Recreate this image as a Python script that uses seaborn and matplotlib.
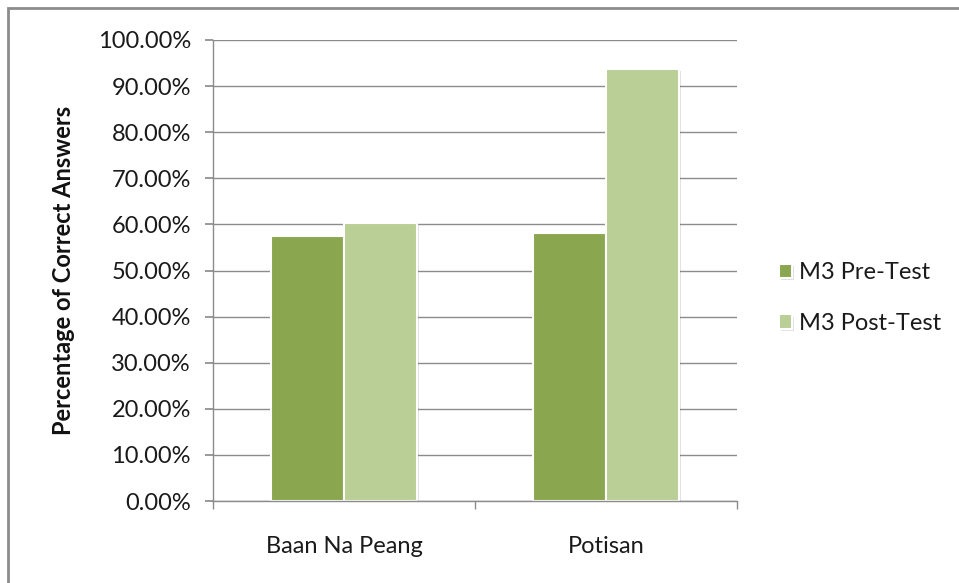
import matplotlib
matplotlib.use("Agg")
import matplotlib.pyplot as plt
import matplotlib.patheffects as pe
from matplotlib.ticker import FuncFormatter, FixedLocator
import seaborn as sns
import pandas as pd

schools = ["Baan Na Peang", "Potisan"]
pre_test = [0.575, 0.581]
post_test = [0.602, 0.938]
series = ["M3 Pre-Test", "M3 Post-Test"]
colors = ["#8AA74F", "#B9CF96"]

df = pd.DataFrame({
    "School": schools * 2,
    "Value": pre_test + post_test,
    "Series": [series[0]] * 2 + [series[1]] * 2,
})

sns.set_theme(style="white")
plt.rcParams["font.family"] = ["Lato", "DejaVu Sans"]

FS = 17
fig = plt.figure(figsize=(9.59, 5.83), dpi=100)
ax = fig.add_axes([213/959, 1-501/583, (737-213)/959, (501-40)/583])

sns.barplot(data=df, x="School", y="Value", hue="Series", order=schools,
            hue_order=series, palette=colors, width=0.56, ax=ax,
            edgecolor="white", linewidth=1.5, saturation=1)

for p in ax.patches:
    p.set_path_effects([pe.SimplePatchShadow(offset=(1.5, -1.5), alpha=0.15), pe.Normal()])

ax.set_ylim(0, 1.0)
ax.set_xlim(-0.5, 1.5)
ax.set_yticks([i/10 for i in range(11)])
ax.yaxis.set_major_formatter(FuncFormatter(lambda v, _: f"{v*100:.2f}%"))
ax.yaxis.grid(True, color="#8C8C8C", linewidth=1)
ax.set_axisbelow(True)
for s in ["top", "right"]:
    ax.spines[s].set_visible(False)
for s in ["left", "bottom"]:
    ax.spines[s].set_color("#8C8C8C")
    ax.spines[s].set_linewidth(1)

ax.tick_params(axis="y", which="major", left=True, length=6, color="#8C8C8C",
               labelsize=FS, labelcolor="#1a1a1a", pad=10)
ax.tick_params(axis="x", which="major", bottom=False, labelsize=FS,
               labelcolor="#1a1a1a", pad=19)
ax.xaxis.set_minor_locator(FixedLocator([-0.5, 0.5, 1.5]))
ax.tick_params(axis="x", which="minor", bottom=True, length=6, color="#8C8C8C")

ax.set_xlabel("")
ax.set_ylabel("Percentage of Correct Answers", fontsize=FS, fontweight="bold",
              color="#111111", labelpad=16)

leg = ax.legend(loc="center left", bbox_to_anchor=(1.08, 0.44), frameon=False,
                fontsize=FS, handlelength=0.55, handleheight=0.55,
                handletextpad=0.3, labelspacing=1.25, borderpad=0, borderaxespad=0)
for t in leg.get_texts():
    t.set_color("#1a1a1a")

fig.add_artist(plt.Rectangle((8/959, -0.1), 1.2, 1-8/583+0.1, transform=fig.transFigure,
                             fill=False, edgecolor="#8C8C8C", linewidth=2))

fig.savefig("out.png", dpi=100)
